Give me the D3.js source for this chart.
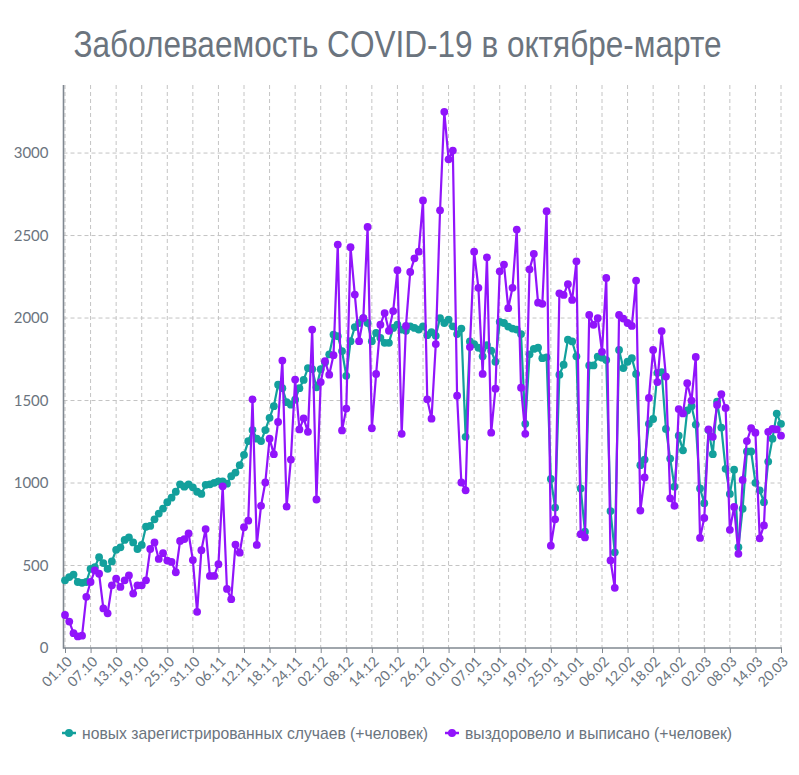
<!DOCTYPE html>
<html><head><meta charset="utf-8">
<script src="https://cdn.jsdelivr.net/npm/d3@7"></script>
<style>body{margin:0;background:#fff} svg{display:block}</style>
</head><body>
<svg id="chart" width="799" height="775"></svg>
<script>
const dates = [
"01.10","02.10","03.10","04.10","05.10","06.10","07.10","08.10","09.10","10.10","11.10","12.10","13.10","14.10","15.10","16.10","17.10","18.10","19.10","20.10","21.10","22.10","23.10","24.10","25.10","26.10","27.10","28.10","29.10","30.10","31.10",
"01.11","02.11","03.11","04.11","05.11","06.11","07.11","08.11","09.11","10.11","11.11","12.11","13.11","14.11","15.11","16.11","17.11","18.11","19.11","20.11","21.11","22.11","23.11","24.11","25.11","26.11","27.11","30.11",
"01.12","02.12","03.12","04.12","05.12","06.12","07.12","08.12","09.12","10.12","11.12","12.12","13.12","14.12","15.12","16.12","17.12","18.12","19.12","20.12","21.12","22.12","23.12","24.12","25.12","26.12","27.12","28.12","29.12","30.12","31.12",
"01.01","02.01","03.01","04.01","05.01","06.01","07.01","08.01","09.01","10.01","11.01","12.01","13.01","14.01","15.01","16.01","17.01","18.01","19.01","20.01","21.01","22.01","23.01","24.01","25.01","26.01","27.01","28.01","29.01","30.01","31.01",
"01.02","02.02","03.02","04.02","05.02","06.02","07.02","08.02","09.02","10.02","11.02","12.02","13.02","14.02","15.02","16.02","17.02","18.02","19.02","20.02","21.02","22.02","23.02","24.02","25.02","26.02","27.02","28.02",
"01.03","02.03","03.03","04.03","05.03","06.03","07.03","08.03","09.03","10.03","11.03","12.03","13.03","14.03","15.03","16.03","17.03","18.03","19.03","20.03"
];
const newCases = [
410,430,445,400,395,400,480,490,550,515,480,525,595,610,655,670,640,600,625,735,740,780,815,845,884,911,947,992,978,992,
974,947,934,989,992,1001,1010,1010,996,1041,1063,1108,1171,1254,1321,1269,1254,1321,1395,1466,1596,1575,1490,1475,1505,1575,1625,1697,1690,1580,
1690,1730,1780,1900,1890,1800,1650,1860,1945,1970,2000,1970,1860,1910,1880,1850,1850,1940,1960,1930,1923,1950,1940,1930,1950,1896,1914,1892,2000,1970,
1990,1950,1903,1936,1280,1858,1842,1820,1768,1836,1802,1735,1977,1970,1948,1936,1930,1903,1359,1780,1813,1820,1757,1762,1025,851,1657,1717,1869,1858,
1768,967,705,1713,1713,1766,1760,1745,830,580,1807,1697,1735,1757,1661,1108,1142,1359,1388,1668,1672,1328,1148,978,1287,1198,1440,1466,1354,967,
878,1321,1175,1493,1336,1086,934,1081,611,844,1191,1191,1001,956,884,1130,1269,1421,1359
];
const recovered = [
200,160,90,70,75,310,400,470,450,240,210,380,420,370,410,440,330,380,380,410,600,640,540,575,530,522,459,649,660,694,
533,219,593,721,437,437,508,980,358,296,627,578,732,772,1507,625,862,1003,1269,1175,1370,1742,857,1142,1627,1325,1392,1310,1930,900,
1612,1739,1657,1775,2445,1319,1451,2429,2142,1860,2000,2552,1332,1661,1960,2030,1923,2042,2290,1298,1952,2279,2362,2402,2713,1507,1390,1842,2653,3250,
2962,3015,1529,1003,956,1824,2402,2183,1661,2368,1305,1572,2283,2324,2060,2183,2536,1578,1298,2295,2389,2093,2086,2648,620,780,2150,2140,2205,2110,
2344,690,670,2019,1959,1999,1795,2243,531,365,2019,1997,1970,1952,2227,833,1034,1516,1807,1612,1921,1645,907,862,1448,1422,1605,1500,1764,667,
788,1325,1280,1473,1538,1455,716,855,571,1019,1254,1332,1305,665,743,1310,1328,1325,1287
];
const tickLabels = ["01.10","07.10","13.10","19.10","25.10","31.10","06.11","12.11","18.11","24.11","02.12","08.12","14.12","20.12","26.12","01.01","07.01","13.01","19.01","25.01","31.01","06.02","12.02","18.02","24.02","02.03","08.03","14.03","20.03"];
const yTicks = [0,500,1000,1500,2000,2500,3000];
const seriesNames = ["новых зарегистрированных случаев (+человек)","выздоровело и выписано (+человек)"];
const seriesColors = ["#13a09c","#9114fb"];
const title = "Заболеваемость COVID-19 в октябре-марте";

const svg = d3.select("#chart");
const L = 65, R = 781, T = 85, B = 648, AX = 63.5;
const x = d3.scalePoint().domain(dates).range([L, R]);
const yMax = d3.max(recovered.concat(newCases)) * 1.05;
const y = d3.scaleLinear().domain([0, yMax]).range([B, T]);
const textColor = "#6b747e";
const narrow = "'Liberation Sans', Arial, sans-serif";

// title (horizontally condensed to mimic a narrow face)
svg.append("text").attr("transform", "translate(397.5,57) scale(0.853,1)")
  .attr("text-anchor", "middle")
  .attr("font-family", narrow).attr("font-size", 37).attr("fill", textColor).text(title);

// grid
const grid = svg.append("g");
grid.selectAll("line.h").data(yTicks.filter(d => d > 0)).join("line")
  .attr("x1", AX).attr("x2", R).attr("y1", d => y(d)).attr("y2", d => y(d))
  .attr("stroke", "#c4c4c4").attr("stroke-dasharray", "4,3").attr("stroke-width", 1);
grid.selectAll("line.v").data(tickLabels).join("line")
  .attr("x1", d => x(d)).attr("x2", d => x(d)).attr("y1", T).attr("y2", B)
  .attr("stroke", "#c4c4c4").attr("stroke-dasharray", "4,3").attr("stroke-width", 1);

// axes
const xAxis = svg.append("g").attr("transform", `translate(0,${B})`)
  .call(d3.axisBottom(x).tickValues(tickLabels).tickSize(5).tickSizeOuter(0));
xAxis.select(".domain").remove();
svg.append("line").attr("x1", AX).attr("x2", R + 1).attr("y1", B).attr("y2", B)
  .attr("stroke", "#808891").attr("stroke-width", 1.6);
xAxis.selectAll(".tick line").attr("stroke", "#808891");
xAxis.selectAll(".tick text")
  .attr("font-family", "Lato, sans-serif").attr("font-size", 14).attr("fill", textColor)
  .attr("text-anchor", "end").attr("dy", "0.35em")
  .attr("transform", "translate(4,11) rotate(-45)").attr("y", 0).attr("x", 0);

const yAxis = svg.append("g").attr("transform", `translate(${AX},0)`)
  .call(d3.axisLeft(y).tickValues(yTicks).tickFormat(d3.format("d")).tickSize(0).tickPadding(15).tickSizeOuter(0));
yAxis.select(".domain").remove();
svg.append("line").attr("x1", AX).attr("x2", AX).attr("y1", T).attr("y2", B + 0.8)
  .attr("stroke", "#808891").attr("stroke-width", 1.6);
yAxis.selectAll(".tick text").attr("font-family", "Lato, sans-serif").attr("font-size", 15).attr("fill", textColor);

// series
const allSeries = [newCases, recovered];
const line = d3.line().x((d, i) => x(dates[i])).y(d => y(d));
allSeries.forEach((vals, k) => {
  const g = svg.append("g");
  g.append("path").datum(vals).attr("d", line).attr("fill", "none")
    .attr("stroke", seriesColors[k]).attr("stroke-width", 2.2).attr("stroke-linejoin", "round");
  g.selectAll("circle").data(vals).join("circle")
    .attr("cx", (d, i) => x(dates[i])).attr("cy", d => y(d)).attr("r", 3.9)
    .attr("fill", seriesColors[k]);
});

// legend
const legendX = [62, 445];
const legendLen = [346, 267];
const leg = svg.append("g");
seriesNames.forEach((name, k) => {
  const g = leg.append("g").attr("transform", `translate(${legendX[k]},733)`);
  g.append("line").attr("x1", 0).attr("x2", 14).attr("stroke", seriesColors[k]).attr("stroke-width", 2.5);
  g.append("circle").attr("cx", 7).attr("r", 4).attr("fill", seriesColors[k]);
  g.append("text").attr("x", 20).attr("y", 6)
    .attr("font-family", narrow).attr("font-size", 17).attr("fill", textColor)
    .attr("textLength", legendLen[k]).attr("lengthAdjust", "spacingAndGlyphs").text(name);
});
</script></body></html>
